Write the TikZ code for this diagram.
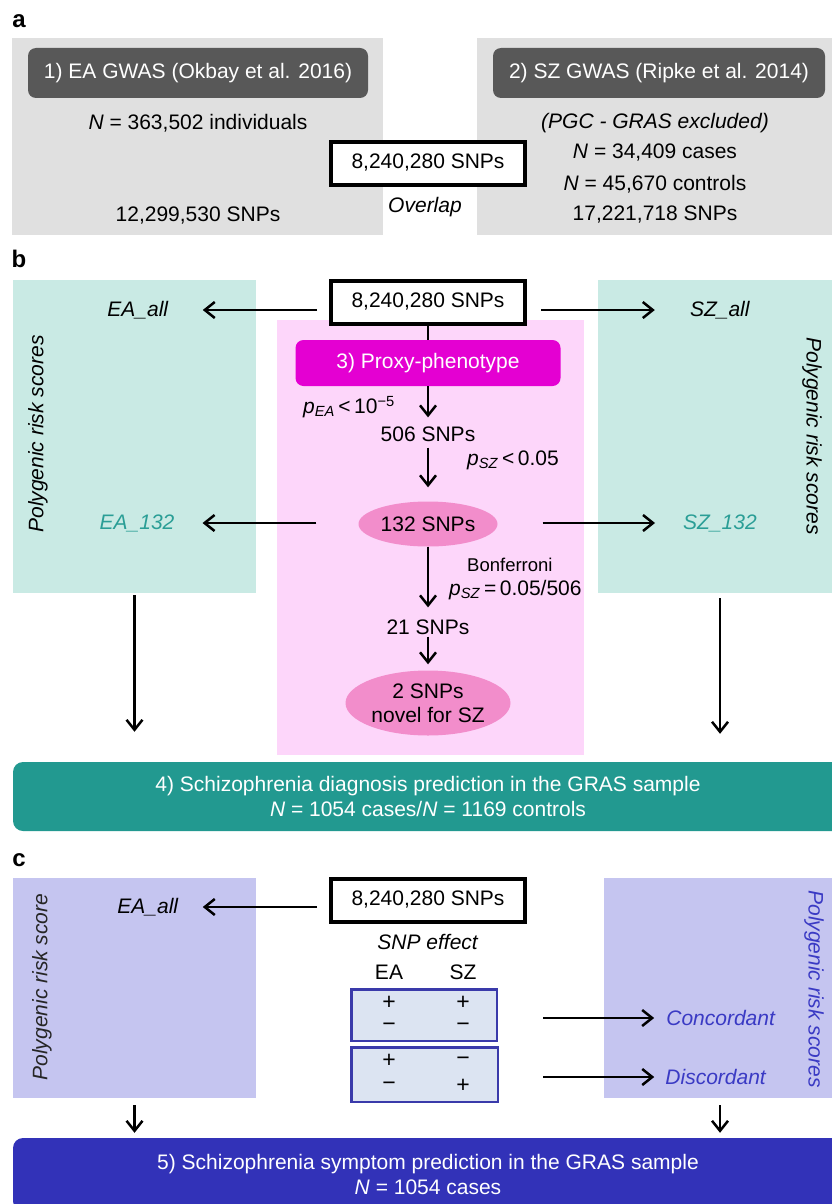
\documentclass[tikz,border=0pt]{standalone}
\usepackage{fontspec}
\setmainfont{Liberation Sans}
\usetikzlibrary{arrows.meta}
\usetikzlibrary{shapes.geometric}

\definecolor{greybg}{HTML}{E0E0E0}
\definecolor{darkhead}{HTML}{585858}
\definecolor{tealbg}{HTML}{C9EAE4}
\definecolor{tealbar}{HTML}{229990}
\definecolor{tealtext}{HTML}{2A9E96}
\definecolor{pinkbg}{HTML}{FDD6FA}
\definecolor{magentabox}{HTML}{E400D2}
\definecolor{pinkell}{HTML}{F28DCB}
\definecolor{lavbg}{HTML}{C5C5F0}
\definecolor{bluebar}{HTML}{3232B8}
\definecolor{bluetext}{HTML}{3A3AC4}
\definecolor{signfill}{HTML}{DCE4F2}
\definecolor{signline}{HTML}{3A3AAA}

\begin{document}
\begin{tikzpicture}[x=1pt, y=-1pt, > = {Straight Barb[length=10pt,width=16pt]},
  every node/.style={font=\fontsize{21}{25}\selectfont, inner sep=2pt},
  arr/.style={->, line width=2.5pt},
  panel/.style={font=\fontsize{24}{28}\selectfont\bfseries},
  header/.style={fill=darkhead, text=white, rounded corners=8pt, minimum width=340pt, minimum height=50pt},
  snpbox/.style={draw, line width=4pt, fill=white, minimum width=194pt, minimum height=43pt},
  oval/.style={ellipse, fill=pinkell, inner sep=0, align=center},
  signbox/.style={draw=signline, line width=2.5pt, fill=signfill},
  sign/.style={font=\fontsize{23}{26}\selectfont},
  prs/.style={font=\fontsize{21}{25}\selectfont\itshape},
  bar/.style={rounded corners=10pt, text=white, align=center, minimum width=830pt}]

\useasboundingbox (0,0) rectangle (832,1204);

\node[panel] (la) at (19,21) {a};
\node[fill=greybg, minimum width=371pt, minimum height=197pt, inner sep=0] (greyL) at (197.5,136.5) {};
\node[fill=greybg, minimum width=363pt, minimum height=197pt, inner sep=0] (greyR) at (658.5,136.5) {};
\node[header] (eagwas) at (198,73) {1) EA GWAS (Okbay et al. 2016)};
\node[header, minimum width=332pt] (szgwas) at (659,73) {2) SZ GWAS (Ripke et al. 2014)};
\node (eanum) at (198,123) {\textit{N} = 363,502 individuals};
\node (easnp) at (198,216) {12,299,530 SNPs};
\node[snpbox] (snpa) at (428,163) {8,240,280 SNPs};
\node (overlap) at (425,207) {\textit{Overlap}};
\node (pgc) at (655,123) {\textit{(PGC - GRAS excluded)}};
\node (szcase) at (655,153) {\textit{N} = 34,409 cases};
\node (szctrl) at (655,184) {\textit{N} = 45,670 controls};
\node (szsnp) at (655,215) {17,221,718 SNPs};

\node[panel] (lb) at (19,259) {b};
\node[fill=tealbg, minimum width=243pt, minimum height=313pt, inner sep=0] (tealL) at (134.5,436.5) {};
\node[fill=tealbg, minimum width=244pt, minimum height=313pt, inner sep=0] (tealR) at (720,436.5) {};
\fill[pinkbg] (277,320) rectangle (584,755);
\node[prs, rotate=90] (prsL) at (38,434) {Polygenic risk scores};
\node[prs, rotate=-90] (prsR) at (812,436) {Polygenic risk scores};
\node[snpbox] (snpb) at (428,302) {8,240,280 SNPs};
\node (eaall) at (138,310) {\textit{EA\_all}};
\node (szall) at (720,310) {\textit{SZ\_all}};
\node[fill=magentabox, text=white, rounded corners=8pt, minimum width=265pt, minimum height=46pt] (proxy) at (428,363) {3) Proxy-phenotype};
\node[anchor=east] (pea) at (397,407) {\textit{p}\textsubscript{\textit{EA}}\,<\,10\textsuperscript{−5}};
\node (n506) at (428,434) {506 SNPs};
\node[anchor=west] (psz) at (465,460) {\textit{p}\textsubscript{\textit{SZ}}\,<\,0.05};
\node[oval, minimum width=139pt, minimum height=45pt] (e132) at (428,524) {132 SNPs};
\node[text=tealtext] (ea132) at (137,523) {\textit{EA\_132}};
\node[text=tealtext] (sz132) at (720,523) {\textit{SZ\_132}};
\node[anchor=west, font=\fontsize{18.5}{22}\selectfont] (bonf) at (465,565) {Bonferroni};
\node[anchor=west] (pszb) at (447,590) {\textit{p}\textsubscript{\textit{SZ}}\,=\,0.05/506};
\node (n21) at (428,627) {21 SNPs};
\node[oval, minimum width=165pt, minimum height=65pt, font=\fontsize{21}{24}\selectfont] (e2) at (428,703) {2 SNPs\\novel for SZ};
\node[bar, fill=tealbar, minimum height=69pt] (diag) at (428,796.5) {4) Schizophrenia diagnosis prediction in the GRAS sample\\\textit{N} = 1054 cases/\textit{N} = 1169 controls};

\draw[arr, shorten <=12pt, shorten >=32pt] (snpb.west |- eaall.east) -- (eaall.east);
\draw[arr, shorten <=14pt, shorten >=33pt] (snpb.east |- szall.west) -- (szall.west);
\draw[line width=2.5pt] (snpb) -- (proxy);
\draw[arr, shorten >=7pt] (proxy) -- (n506);
\draw[arr, shorten <=4pt, shorten >=14pt] (n506) -- (e132);
\draw[arr, shorten <=42pt, shorten >=26pt] (e132.west |- ea132.east) -- (ea132.east);
\draw[arr, shorten <=45pt, shorten >=26pt] (e132.east |- sz132.west) -- (sz132.west);
\draw[arr, shorten >=10pt] (e132) -- (n21);
\draw[arr, shorten >=6pt] (n21) -- (e2);
\draw[arr, shorten <=2pt, shorten >=30pt] (tealL.south) -- (tealL.south |- diag.north);
\draw[arr, shorten <=5pt, shorten >=28pt] (tealR.south) -- (tealR.south |- diag.north);

\node[panel] (lc) at (19,860) {c};
\node[fill=lavbg, minimum width=243pt, minimum height=220pt, inner sep=0] (lavL) at (134.5,988) {};
\node[fill=lavbg, minimum width=232pt, minimum height=220pt, inner sep=0] (lavR) at (720,988) {};
\node[prs, text=black!85, rotate=90] (prsLc) at (42,987) {Polygenic risk score};
\node[prs, text=bluetext, rotate=-90] (prsRc) at (814,989) {Polygenic risk scores};
\node[snpbox] (snpc) at (428,900) {8,240,280 SNPs};
\node (eaallc) at (148,907) {\textit{EA\_all}};
\node (effect) at (428,942) {\textit{SNP effect}};
\node (ea) at (389,972) {EA};
\node (sz) at (463,972) {SZ};
\node[signbox, minimum width=145.5pt, minimum height=51.5pt] (conbox) at (424,1015) {};
\node[signbox, minimum width=146.5pt, minimum height=54.5pt] (disbox) at (424.5,1074.5) {};
\node[sign] (s1) at (389,1003) {+};
\node[sign] (s2) at (463,1003) {+};
\node[sign] (s3) at (389,1027) {−};
\node[sign] (s4) at (463,1027) {−};
\node[sign] (s5) at (389,1061) {+};
\node[sign] (s6) at (463,1061) {−};
\node[sign] (s7) at (389,1086) {−};
\node[sign] (s8) at (463,1086) {+};
\node[text=bluetext] (conc) at (721,1018) {\textit{Concordant}};
\node[text=bluetext] (disc) at (716,1077) {\textit{Discordant}};
\node[bar, fill=bluebar, minimum height=73pt] (symp) at (428,1174.5) {5) Schizophrenia symptom prediction in the GRAS sample\\\textit{N} = 1054 cases};

\draw[arr, shorten <=12pt, shorten >=22pt] (snpc.west |- eaallc.east) -- (eaallc.east);
\draw[arr, shorten <=45pt, shorten >=10pt] (conbox.east |- conc.west) -- (conc.west);
\draw[arr, shorten <=44pt, shorten >=9pt] (disbox.east |- disc.west) -- (disc.west);
\draw[arr, shorten <=7pt, shorten >=5pt] (lavL.south) -- (lavL.south |- symp.north);
\draw[arr, shorten <=7pt, shorten >=5pt] (lavR.south) -- (lavR.south |- symp.north);

\end{tikzpicture}
\end{document}
